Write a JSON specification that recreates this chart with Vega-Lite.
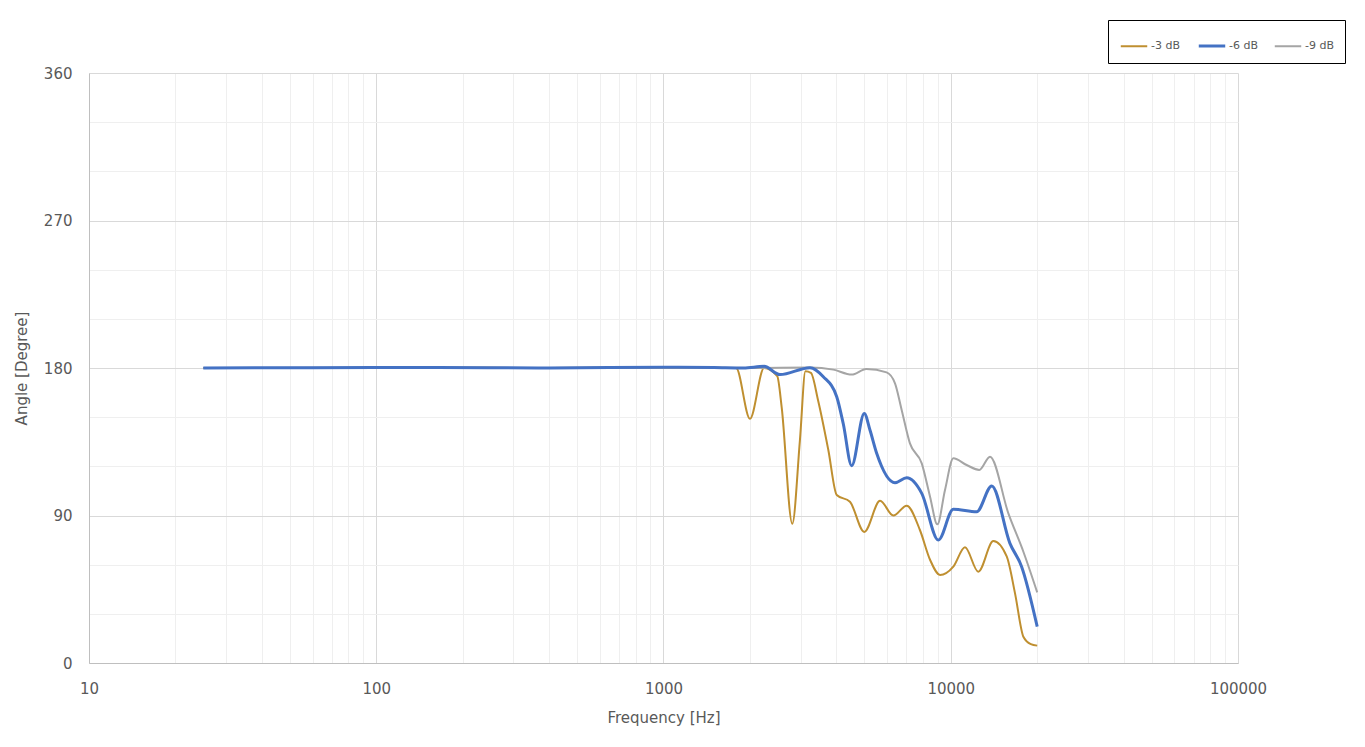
{
  "$schema": "https://vega.github.io/schema/vega-lite/v6.json",
  "width": 1149,
  "height": 590,
  "autosize": {"type": "none"},
  "padding": {"left": 89, "top": 73, "right": 127, "bottom": 84},
  "background": "white",
  "config": {
    "font": "DejaVu Sans",
    "view": {"stroke": null},
    "axis": {
      "labelFont": "DejaVu Sans",
      "titleFont": "DejaVu Sans",
      "labelColor": "#595959",
      "titleColor": "#595959",
      "labelFontSize": 15,
      "titleFontSize": 15,
      "titleFontWeight": "normal",
      "domainColor": "#bfbfbf",
      "ticks": false
    },
    "legend": {
      "title": null,
      "orient": "none",
      "legendX": 1019,
      "legendY": -53,
      "direction": "horizontal",
      "columns": 3,
      "symbolType": "stroke",
      "symbolSize": 700,
      "labelFont": "DejaVu Sans",
      "labelFontSize": 11,
      "labelColor": "#595959",
      "strokeColor": "black",
      "fillColor": "white",
      "padding": 11,
      "columnPadding": 12,
      "labelOffset": 2
    }
  },
  "data": {
    "values": [
      {"f": 25, "a": 180, "s": "-3 dB"},
      {"f": 60, "a": 180, "s": "-3 dB"},
      {"f": 150, "a": 180.2, "s": "-3 dB"},
      {"f": 400, "a": 180, "s": "-3 dB"},
      {"f": 1000, "a": 180.3, "s": "-3 dB"},
      {"f": 1500, "a": 180.2, "s": "-3 dB"},
      {"f": 1790, "a": 180, "s": "-3 dB"},
      {"f": 2000, "a": 149, "s": "-3 dB"},
      {"f": 2239, "a": 180, "s": "-3 dB"},
      {"f": 2489, "a": 175, "s": "-3 dB"},
      {"f": 2579, "a": 156, "s": "-3 dB"},
      {"f": 2808, "a": 85, "s": "-3 dB"},
      {"f": 2985, "a": 136, "s": "-3 dB"},
      {"f": 3120, "a": 178, "s": "-3 dB"},
      {"f": 3260, "a": 177, "s": "-3 dB"},
      {"f": 3450, "a": 160.5, "s": "-3 dB"},
      {"f": 3748, "a": 130, "s": "-3 dB"},
      {"f": 4009, "a": 102.5, "s": "-3 dB"},
      {"f": 4457, "a": 98.4, "s": "-3 dB"},
      {"f": 5000, "a": 80, "s": "-3 dB"},
      {"f": 5675, "a": 99, "s": "-3 dB"},
      {"f": 6310, "a": 90, "s": "-3 dB"},
      {"f": 7025, "a": 96, "s": "-3 dB"},
      {"f": 7816, "a": 81, "s": "-3 dB"},
      {"f": 8470, "a": 63, "s": "-3 dB"},
      {"f": 9176, "a": 53.7, "s": "-3 dB"},
      {"f": 10210, "a": 58.8, "s": "-3 dB"},
      {"f": 11210, "a": 70.6, "s": "-3 dB"},
      {"f": 12470, "a": 55.7, "s": "-3 dB"},
      {"f": 14070, "a": 74.4, "s": "-3 dB"},
      {"f": 15660, "a": 65, "s": "-3 dB"},
      {"f": 16740, "a": 42.5, "s": "-3 dB"},
      {"f": 17900, "a": 16, "s": "-3 dB"},
      {"f": 19000, "a": 11.5, "s": "-3 dB"},
      {"f": 20000, "a": 10.6, "s": "-3 dB"},

      {"f": 25, "a": 180, "s": "-9 dB"},
      {"f": 60, "a": 180.1, "s": "-9 dB"},
      {"f": 150, "a": 180.2, "s": "-9 dB"},
      {"f": 400, "a": 180, "s": "-9 dB"},
      {"f": 1000, "a": 180.4, "s": "-9 dB"},
      {"f": 2000, "a": 180, "s": "-9 dB"},
      {"f": 3236, "a": 180.3, "s": "-9 dB"},
      {"f": 3900, "a": 179, "s": "-9 dB"},
      {"f": 4520, "a": 176, "s": "-9 dB"},
      {"f": 5080, "a": 179.4, "s": "-9 dB"},
      {"f": 5980, "a": 177.3, "s": "-9 dB"},
      {"f": 6396, "a": 170.6, "s": "-9 dB"},
      {"f": 6747, "a": 154.4, "s": "-9 dB"},
      {"f": 7210, "a": 134, "s": "-9 dB"},
      {"f": 7925, "a": 121.8, "s": "-9 dB"},
      {"f": 8470, "a": 101.5, "s": "-9 dB"},
      {"f": 8980, "a": 84.6, "s": "-9 dB"},
      {"f": 9550, "a": 105.6, "s": "-9 dB"},
      {"f": 10210, "a": 124.9, "s": "-9 dB"},
      {"f": 11360, "a": 120.8, "s": "-9 dB"},
      {"f": 12570, "a": 117.8, "s": "-9 dB"},
      {"f": 13700, "a": 125.9, "s": "-9 dB"},
      {"f": 15870, "a": 91.3, "s": "-9 dB"},
      {"f": 17900, "a": 67.9, "s": "-9 dB"},
      {"f": 20000, "a": 43.1, "s": "-9 dB"},

      {"f": 25, "a": 180, "s": "-6 dB"},
      {"f": 60, "a": 180.2, "s": "-6 dB"},
      {"f": 150, "a": 180.3, "s": "-6 dB"},
      {"f": 400, "a": 180, "s": "-6 dB"},
      {"f": 1000, "a": 180.5, "s": "-6 dB"},
      {"f": 1500, "a": 180.3, "s": "-6 dB"},
      {"f": 1900, "a": 180, "s": "-6 dB"},
      {"f": 2239, "a": 181, "s": "-6 dB"},
      {"f": 2544, "a": 176, "s": "-6 dB"},
      {"f": 3236, "a": 180.2, "s": "-6 dB"},
      {"f": 3600, "a": 174.7, "s": "-6 dB"},
      {"f": 4009, "a": 162.5, "s": "-6 dB"},
      {"f": 4225, "a": 146, "s": "-6 dB"},
      {"f": 4520, "a": 120.4, "s": "-6 dB"},
      {"f": 5000, "a": 152.3, "s": "-6 dB"},
      {"f": 5236, "a": 142, "s": "-6 dB"},
      {"f": 5522, "a": 128, "s": "-6 dB"},
      {"f": 6396, "a": 110, "s": "-6 dB"},
      {"f": 7025, "a": 113, "s": "-6 dB"},
      {"f": 7925, "a": 103.5, "s": "-6 dB"},
      {"f": 9054, "a": 75, "s": "-6 dB"},
      {"f": 10210, "a": 93.8, "s": "-6 dB"},
      {"f": 12310, "a": 92.3, "s": "-6 dB"},
      {"f": 13890, "a": 108, "s": "-6 dB"},
      {"f": 16070, "a": 73, "s": "-6 dB"},
      {"f": 17650, "a": 58.8, "s": "-6 dB"},
      {"f": 20000, "a": 22.2, "s": "-6 dB"}
    ]
  },
  "mark": {"type": "line", "interpolate": "monotone"},
  "encoding": {
    "x": {
      "field": "f",
      "type": "quantitative",
      "scale": {"type": "log", "domain": [10, 100000], "nice": false},
      "axis": {
        "title": "Frequency [Hz]",
        "titlePadding": 14,
        "labelPadding": 18,
        "labelFlush": false,
        "values": [10,20,30,40,50,60,70,80,90,100,200,300,400,500,600,700,800,900,1000,2000,3000,4000,5000,6000,7000,8000,9000,10000,20000,30000,40000,50000,60000,70000,80000,90000,100000],
        "labelExpr": "indexof([10,100,1000,10000,100000], datum.value) >= 0 ? format(datum.value, 'd') : ''",
        "labelOverlap": false,
        "gridColor": {"condition": {"test": "indexof([10,100,1000,10000,100000], datum.value) >= 0", "value": "#d9d9d9"}, "value": "#efefef"},
        "grid": true
      }
    },
    "y": {
      "field": "a",
      "type": "quantitative",
      "scale": {"domain": [0, 360], "nice": false},
      "axis": {
        "title": "Angle [Degree]",
        "titlePadding": 14,
        "labelPadding": 17,
        "values": [0,30,60,90,120,150,180,210,240,270,300,330,360],
        "labelExpr": "datum.value % 90 == 0 ? datum.label : ''",
        "gridColor": {"condition": {"test": "datum.value % 90 == 0", "value": "#d9d9d9"}, "value": "#efefef"},
        "grid": true
      }
    },
    "color": {
      "field": "s",
      "type": "nominal",
      "sort": ["-3 dB", "-6 dB", "-9 dB"],
      "scale": {"domain": ["-3 dB", "-6 dB", "-9 dB"], "range": ["#BF8F30", "#4472C4", "#A5A5A5"]}
    },
    "strokeWidth": {
      "field": "s",
      "type": "nominal",
      "sort": ["-3 dB", "-6 dB", "-9 dB"],
      "scale": {"type": "ordinal", "domain": ["-3 dB", "-6 dB", "-9 dB"], "range": [2, 3, 2]}
    }
  }
}
